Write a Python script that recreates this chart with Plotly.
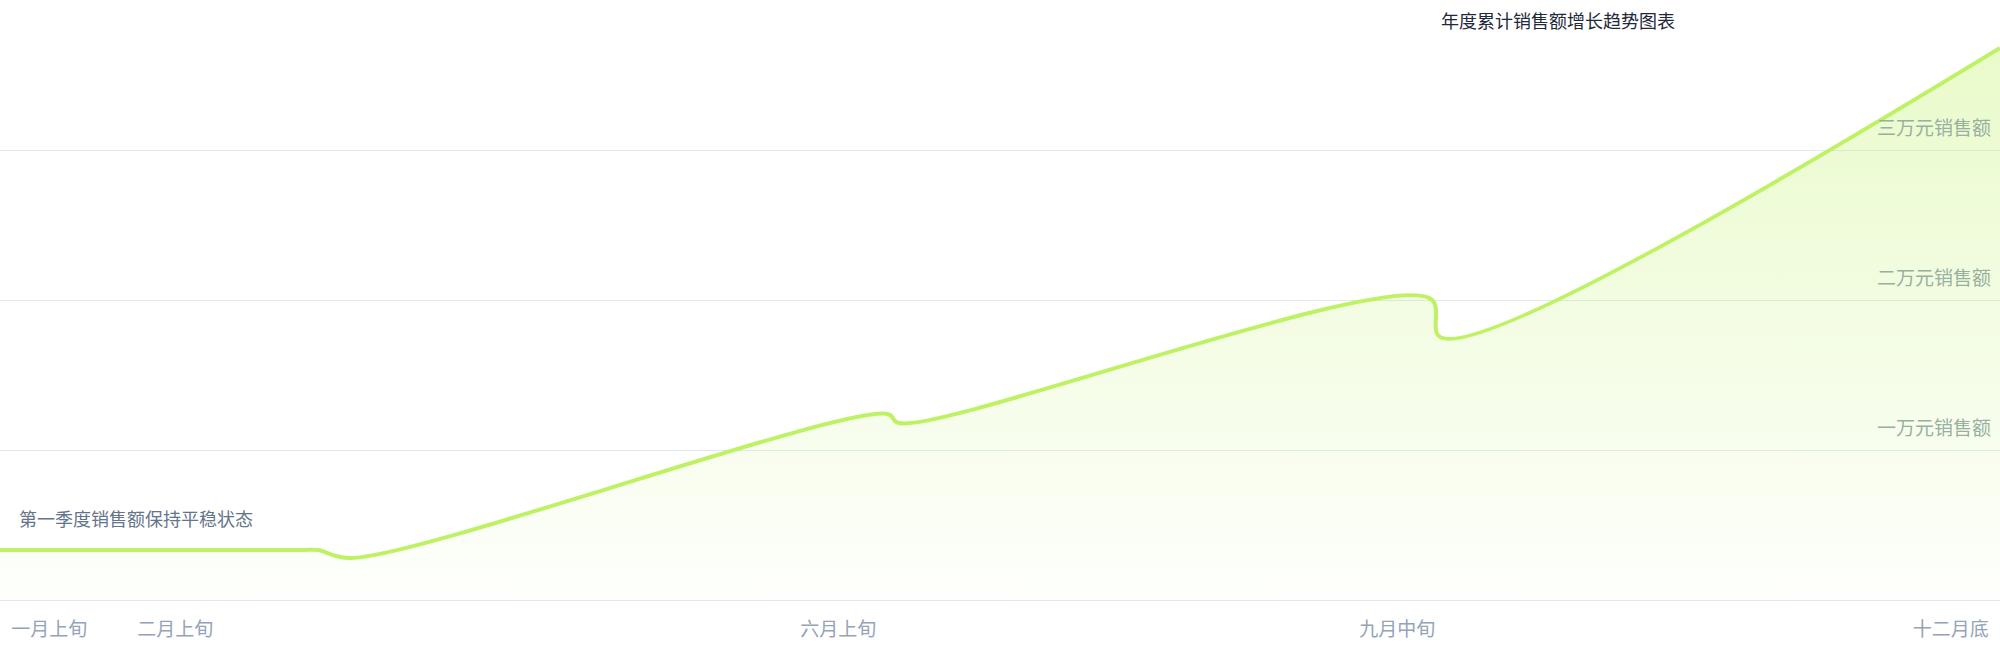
import plotly.graph_objects as go

# 销售额数据 (日期, 金额)
dates = ["2023-01-01", "2023-02-25", "2023-02-28", "2023-03-06", "2023-06-12",
         "2023-06-14", "2023-09-19", "2023-09-21", "2024-01-01"]
sales = [3330, 3330, 3330, 2800, 12400, 11800, 20100, 17500, 36800]

# 坐标轴刻度
x_tick_dates = ["2023-01-10", "2023-02-02", "2023-06-03", "2023-09-13", "2023-12-23"]
x_tick_labels = ["一月上旬", "二月上旬", "六月上旬", "九月中旬", "十二月底"]
y_tick_values = [0, 10000, 20000, 30000]
y_tick_labels = ["", "一万元销售额", "二万元销售额", "三万元销售额"]

title_text = "年度累计销售额增长趋势图表"
note_text = "第一季度销售额保持平稳状态"
note_level = 3330

FONT = "Noto Sans CJK SC, Noto Sans, sans-serif"
LIME = "#bef264"

fig = go.Figure()

fig.add_trace(go.Scatter(
    x=dates,
    y=sales,
    mode="lines",
    line=dict(color=LIME, width=4, shape="spline", smoothing=1),
    fill="tozeroy",
    fillgradient=dict(
        type="vertical",
        colorscale=[[0, "rgba(190,242,100,0.02)"], [1, "rgba(190,242,100,0.34)"]],
    ),
    hoverinfo="skip",
    showlegend=False,
))

fig.add_annotation(
    x=0.0085, xref="paper", xanchor="left",
    y=note_level, yref="y", yanchor="bottom", yshift=17,
    text=note_text, showarrow=False,
    font=dict(family=FONT, size=18, color="#64748b"),
)

fig.update_layout(
    width=2000,
    height=660,
    margin=dict(l=0, r=0, t=30, b=60),
    paper_bgcolor="white",
    plot_bgcolor="white",
    font=dict(family=FONT),
    title=dict(
        text=title_text,
        xref="container", x=0.7205, xanchor="left",
        yref="container", y=0.967, yanchor="middle",
        font=dict(family=FONT, size=18, color="#1e293b"),
    ),
    xaxis=dict(
        type="date",
        range=["2023-01-01", "2024-01-01"],
        tickvals=x_tick_dates,
        ticktext=x_tick_labels,
        showgrid=False,
        zeroline=False,
        showline=True,
        linecolor="#e2e8f0",
        linewidth=1,
        ticks="",
        ticklabelstandoff=12,
        ticklabeloverflow="allow",
        tickfont=dict(family=FONT, size=19, color="#94a3b8"),
    ),
    yaxis=dict(
        range=[0, 38000],
        tickvals=y_tick_values,
        ticktext=y_tick_labels,
        side="right",
        ticklabelposition="inside",
        ticklabelshift=-22,
        ticklabelstandoff=6,
        ticklabeloverflow="allow",
        showgrid=True,
        gridcolor="#e2e8f0",
        gridwidth=1,
        zeroline=False,
        ticks="",
        tickfont=dict(family=FONT, size=19, color="#98b0a0"),
    ),
)

fig.write_html("out.html", config={"displayModeBar": False},
               post_script="document.body.style.margin='0';")
